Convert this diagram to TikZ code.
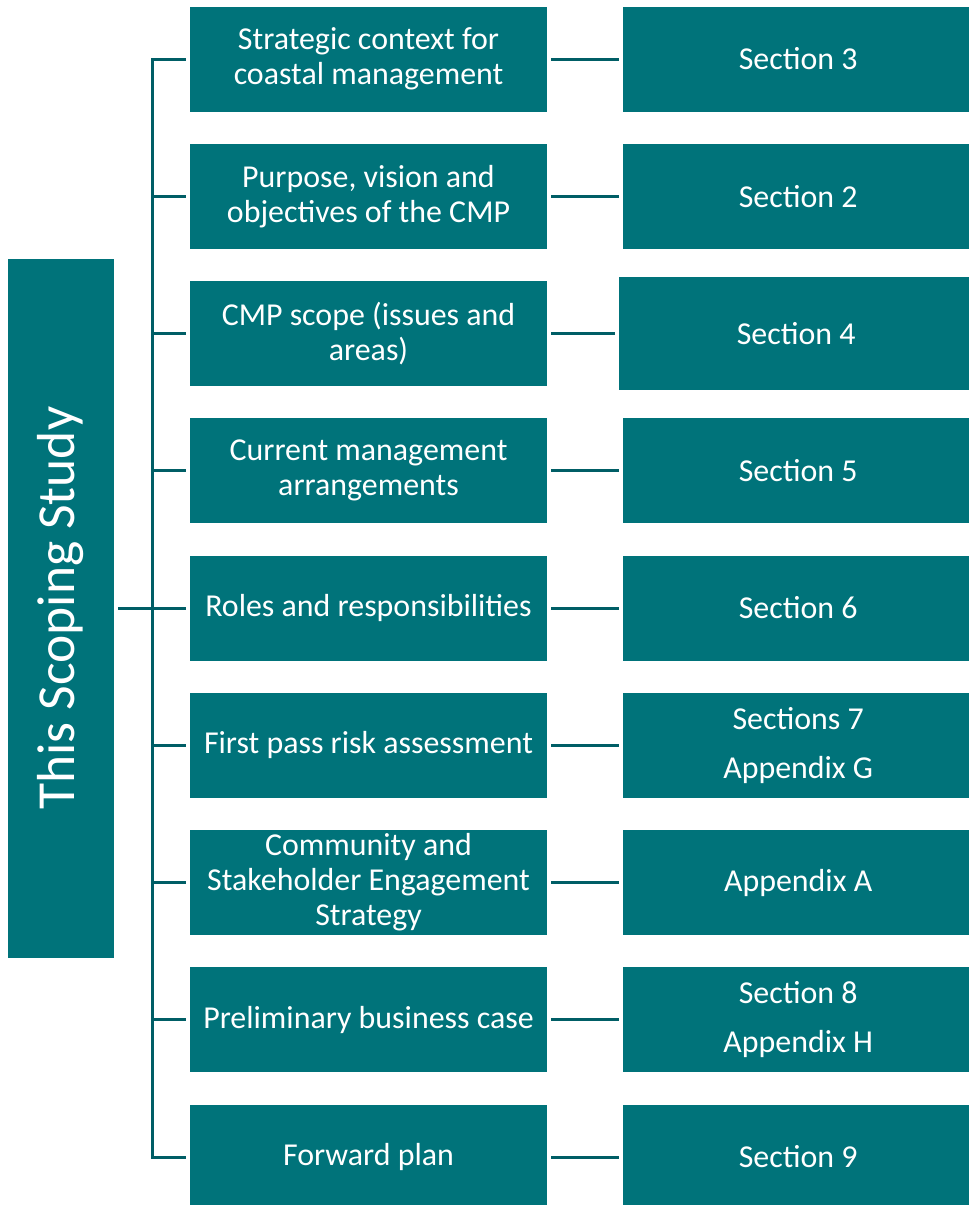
\documentclass[tikz,border=0pt]{standalone}
\usepackage{fontspec}
\setmainfont{Carlito}
\definecolor{boxc}{HTML}{00737A}
\definecolor{linec}{HTML}{005E66}
\begin{document}
\begin{tikzpicture}[x=1pt,y=-1pt,
 box/.style={fill=boxc, text=white, inner sep=0pt, align=center, font=\fontsize{31.9}{35}\selectfont},
 mid/.style={box, minimum width=357pt, minimum height=105pt},
 sec/.style={box, minimum width=350pt, minimum height=105pt, anchor=west},
 conn/.style={draw=linec, line width=3pt}]
\useasboundingbox (0,0) rectangle (969,1205);
\clip (0,0) rectangle (969,1205);

\node[box, minimum width=106pt, minimum height=699pt] (L) at (61,608.5) {};
\node[text=white, font=\fontsize{53.5}{60}\selectfont, rotate=90, inner sep=0pt] (Lt) at (61,608) {This Scoping Study};

\node[mid] (m1) at (368.5,59) {Strategic context for\\coastal management};
\node[mid] (m2) at (368.5,196.25) {Purpose, vision and\\objectives of the CMP};
\node[mid] (m3) at (368.5,333.5) {CMP scope (issues and\\areas)};
\node[mid] (m4) at (368.5,470.75) {Current management\\arrangements};
\node[mid] (m5) at (368.5,608) {Roles and responsibilities};
\node[mid] (m6) at (368.5,745.25) {First pass risk assessment};
\node[mid] (m7) at (368.5,882.5) {Community and\\Stakeholder Engagement\\Strategy};
\node[mid] (m8) at (368.5,1019.75) {Preliminary business case};
\node[mid] (m9) at (368.5,1157) {Forward plan};

\node[sec] (r1) at (623,59) {Section 3};
\node[sec] (r2) at (623,196.25) {Section 2};
\node[sec, minimum width=354pt, minimum height=113pt] (r3) at (619,333.5) {Section 4};
\node[sec] (r4) at (623,470.75) {Section 5};
\node[sec] (r5) at (623,608) {Section 6};
\node[sec] (r6) at (623,745.25) {Sections 7\\[14pt]Appendix G};
\node[sec] (r7) at (623,882.5) {Appendix A};
\node[sec] (r8) at (623,1019.75) {Section 8\\[14pt]Appendix H};
\node[sec] (r9) at (623,1157) {Section 9};

\coordinate (bt) at (152,59);

\foreach \i in {1,...,9}{
  \draw[conn, shorten <=4pt, shorten >=4pt] (m\i) -- (r\i);
}
\draw[conn, shorten <=4pt, shorten >=4pt] (m1.west) -- (m1.west -| bt) -- (m9.west -| bt) -- (m9.west);
\foreach \i in {2,...,8}{
  \draw[conn, shorten >=4pt] (m\i.west -| bt) -- (m\i.west);
}
\draw[conn, shorten <=4pt] (L.east |- m5.west) -- (m5.west -| bt);
\end{tikzpicture}
\end{document}
